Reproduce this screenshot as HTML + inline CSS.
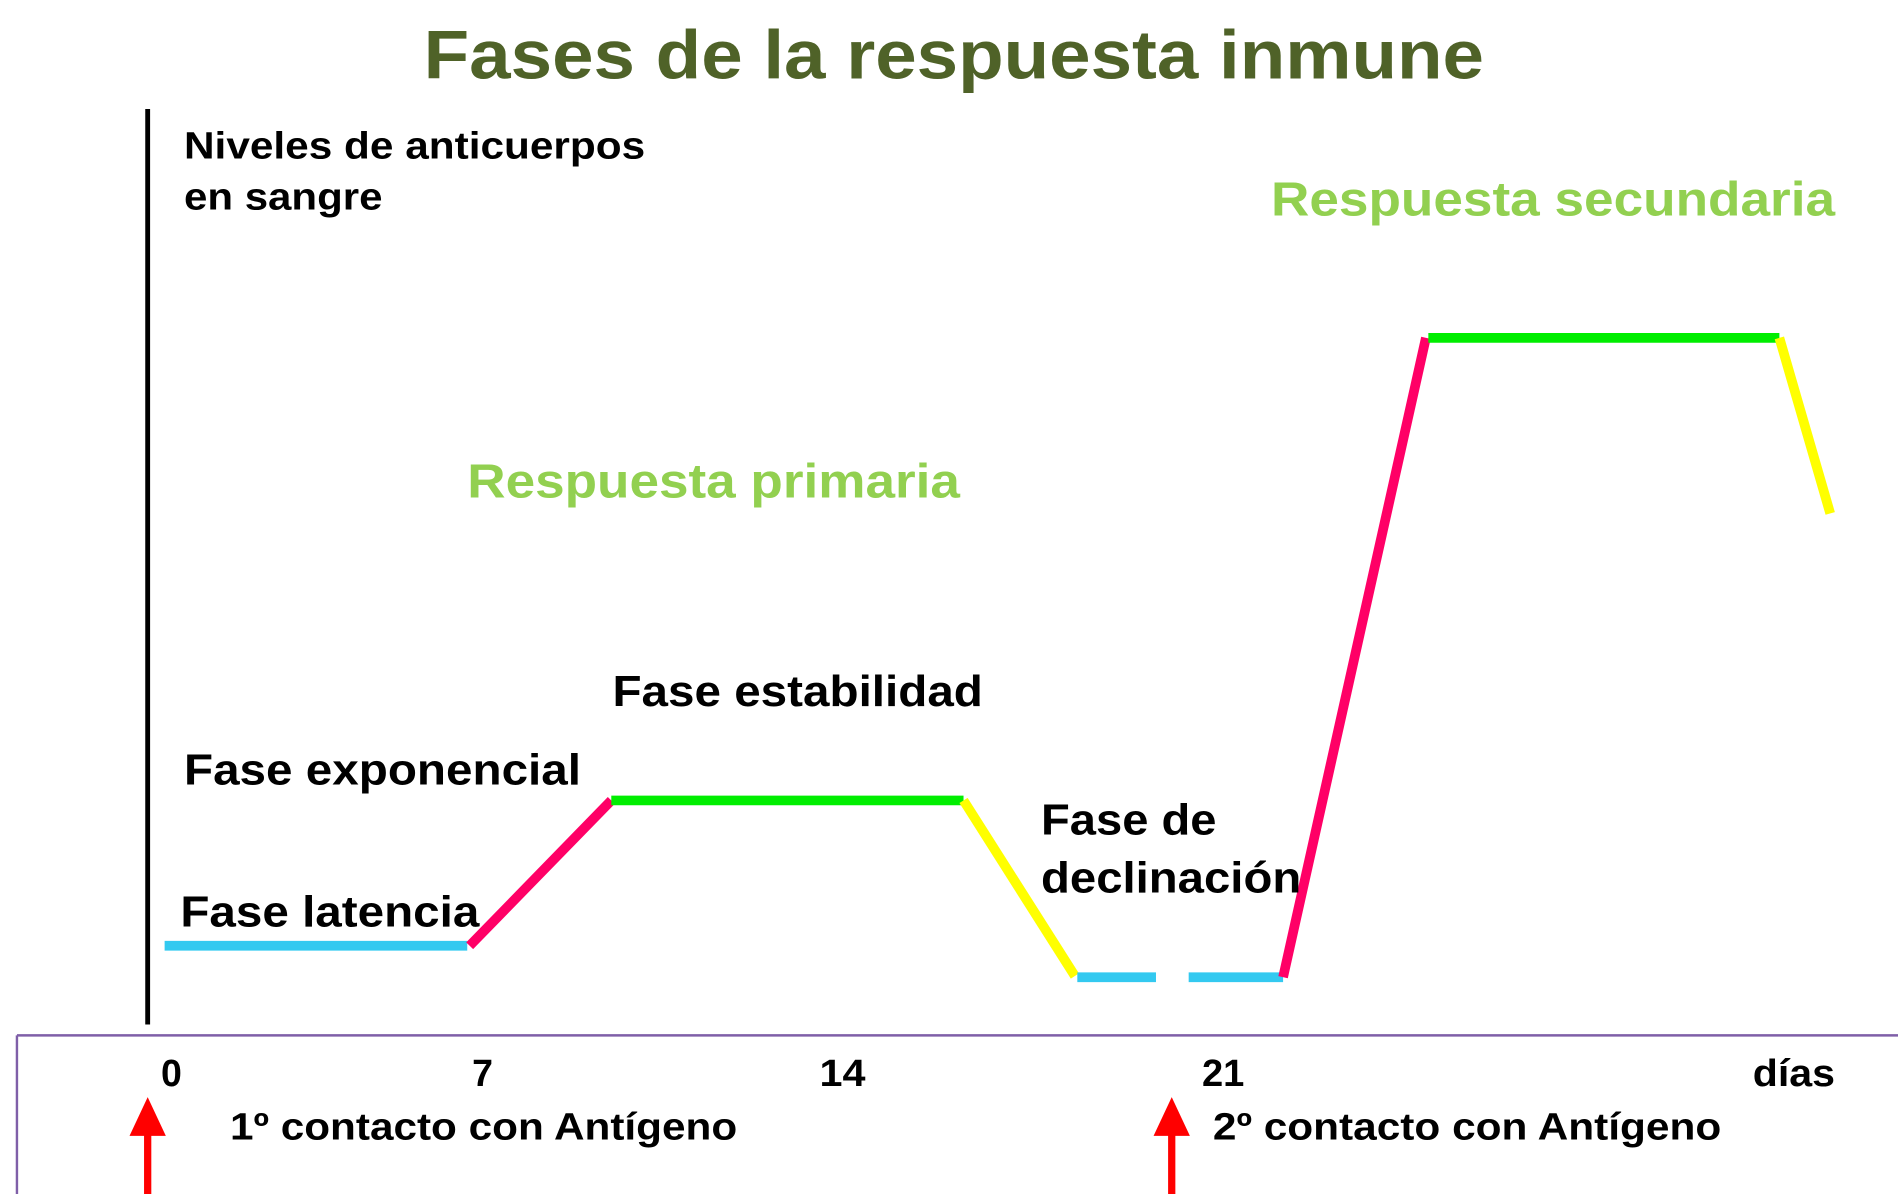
<!DOCTYPE html>
<html><head><meta charset="utf-8"><style>html,body{margin:0;padding:0;background:#fff;overflow:hidden}svg{display:block}</style></head>
<body>
<svg width="1898" height="1194" viewBox="0 0 1568 986" preserveAspectRatio="none" xmlns="http://www.w3.org/2000/svg" font-family="Liberation Sans, Arial, sans-serif" font-weight="bold">
<text x="350" y="65" font-size="57" fill="#4f6228" textLength="876" lengthAdjust="spacingAndGlyphs">Fases de la respuesta inmune</text>
<line x1="122" y1="90" x2="122" y2="846" stroke="#000" stroke-width="4"/>
<line x1="14" y1="855" x2="1568" y2="855" stroke="#7f5fa8" stroke-width="2"/>
<line x1="14" y1="855" x2="14" y2="986" stroke="#7f5fa8" stroke-width="2"/>
<g font-size="31" fill="#000">
<text x="152" y="131" textLength="381" lengthAdjust="spacingAndGlyphs">Niveles de anticuerpos</text>
<text x="152" y="173" textLength="164" lengthAdjust="spacingAndGlyphs">en sangre</text>
</g>
<text x="1050" y="178" font-size="40" fill="#92d050" textLength="466" lengthAdjust="spacingAndGlyphs">Respuesta secundaria</text>
<text x="386" y="411" font-size="40" fill="#92d050" textLength="407" lengthAdjust="spacingAndGlyphs">Respuesta primaria</text>
<g stroke-width="8" fill="none">
<line x1="136" y1="781" x2="386" y2="781" stroke="#33c9f0"/>
<line x1="388" y1="781" x2="505" y2="661" stroke="#ff0066"/>
<line x1="505" y1="661" x2="796" y2="661" stroke="#00ee00"/>
<line x1="796" y1="661" x2="888" y2="806" stroke="#ffff00"/>
<line x1="890" y1="807" x2="955" y2="807" stroke="#33c9f0"/>
<line x1="982" y1="807" x2="1060" y2="807" stroke="#33c9f0"/>
<line x1="1060" y1="807" x2="1178" y2="279" stroke="#ff0066"/>
<line x1="1180" y1="279" x2="1470" y2="279" stroke="#00ee00"/>
<line x1="1470" y1="279" x2="1512" y2="424" stroke="#ffff00"/>
</g>
<g font-size="36" fill="#000" lengthAdjust="spacingAndGlyphs">
<text x="506" y="583" textLength="306" lengthAdjust="spacingAndGlyphs">Fase estabilidad</text>
<text x="152" y="648" textLength="328" lengthAdjust="spacingAndGlyphs">Fase exponencial</text>
<text x="860" y="689" textLength="145" lengthAdjust="spacingAndGlyphs">Fase de</text>
<text x="860" y="737" textLength="215" lengthAdjust="spacingAndGlyphs">declinación</text>
<text x="149" y="765" textLength="247" lengthAdjust="spacingAndGlyphs">Fase latencia</text>
</g>
<g font-size="31" fill="#000">
<text x="133" y="897">0</text>
<text x="390" y="897">7</text>
<text x="677" y="897" textLength="38" lengthAdjust="spacingAndGlyphs">14</text>
<text x="993" y="897" textLength="35" lengthAdjust="spacingAndGlyphs">21</text>
<text x="1448" y="897" textLength="68" lengthAdjust="spacingAndGlyphs">días</text>
<text x="190" y="941" textLength="419" lengthAdjust="spacingAndGlyphs">1º contacto con Antígeno</text>
<text x="1002" y="941" textLength="420" lengthAdjust="spacingAndGlyphs">2º contacto con Antígeno</text>
</g>
<g fill="#ff0000">
<polygon points="122,906 107,938 137,938"/><rect x="119" y="936" width="6" height="50"/>
<polygon points="968,906 953,938 983,938"/><rect x="965" y="936" width="6" height="50"/>
</g>
</svg>
</body></html>
